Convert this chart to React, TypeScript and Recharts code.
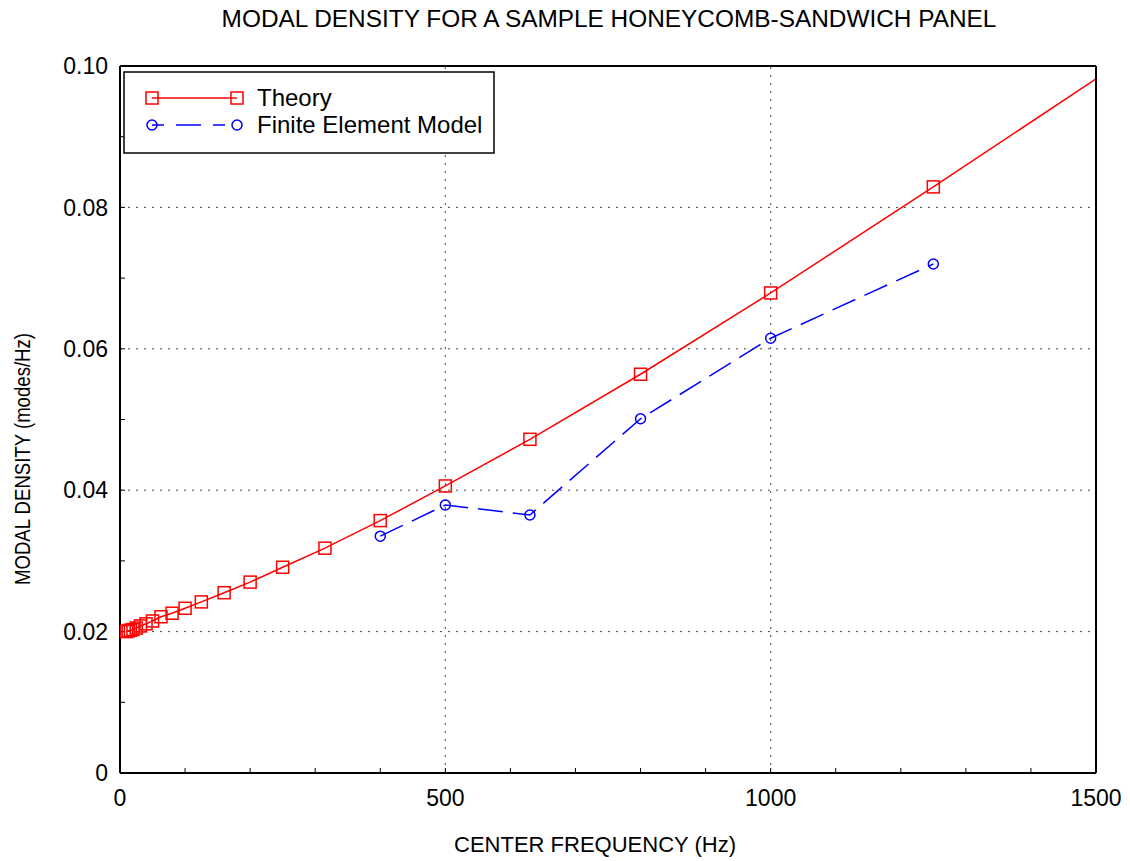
import React from 'react';
import { LineChart, Line, XAxis, YAxis, ReferenceLine } from 'recharts';

// theory curve, 1/3-octave centre frequencies (last point runs off the right edge)
const THEORY_FREQ = [10, 12.5, 16, 20, 25, 31.5, 40, 50, 63, 80, 100, 125, 160, 200, 250, 315, 400, 500, 630, 800, 1000, 1250, 1600];
const THEORY_DENSITY = [0.02, 0.0201, 0.0202, 0.0203, 0.0205, 0.0208, 0.0211, 0.0215, 0.0221, 0.0226, 0.0233, 0.0242, 0.0255, 0.027, 0.0291, 0.0318, 0.0357, 0.0406, 0.0472, 0.0564, 0.0679, 0.0829, 0.1043];

const FEM_FREQ = [400, 500, 630, 800, 1000, 1250];
const FEM_DENSITY = [0.0335, 0.0379, 0.0365, 0.0501, 0.0615, 0.072];

const X_TICKS = [0, 100, 200, 300, 400, 500, 600, 700, 800, 900, 1000, 1100, 1200, 1300, 1400, 1500];
const X_LABELS = [0, 500, 1000, 1500];
const Y_TICKS = [0, 0.01, 0.02, 0.03, 0.04, 0.05, 0.06, 0.07, 0.08, 0.09, 0.1];
const Y_LABELS = [0, 0.02, 0.04, 0.06, 0.08, 0.1];
const X_GRID = [500, 1000];
const Y_GRID = [0.02, 0.04, 0.06, 0.08];

const theoryData = THEORY_FREQ.map((x, i) => ({ x, y: THEORY_DENSITY[i] }));
const femData = FEM_FREQ.map((x, i) => ({ x, y: FEM_DENSITY[i] }));

const RED = '#ff0000';
const BLUE = '#0000ff';
const FONT = '"Liberation Sans", Arial, Helvetica, sans-serif';
const FEM_DASH = '25 10';

const fmtX = (v: number) => (X_LABELS.includes(v) ? String(v) : '');
const fmtY = (v: number) => {
  const hit = Y_LABELS.find((l) => Math.abs(l - v) < 1e-9);
  if (hit === undefined) return '';
  return hit === 0 ? '0' : hit.toFixed(2);
};

const SquareDot = (props: any) => {
  const { cx, cy, index } = props;
  if (cx == null || cy == null) return <g key={`sq-${index}`} />;
  return (
    <rect key={`sq-${index}`} x={cx - 6} y={cy - 6} width={12} height={12} fill="none" stroke={RED} strokeWidth={1.5} />
  );
};

const CircleDot = (props: any) => {
  const { cx, cy, index } = props;
  if (cx == null || cy == null) return <g key={`ci-${index}`} />;
  return <circle key={`ci-${index}`} cx={cx} cy={cy} r={5} fill="none" stroke={BLUE} strokeWidth={1.5} />;
};

const tickStyle = { fill: '#000', fontSize: 23, fontFamily: FONT };
const axisLine = { stroke: '#000', strokeWidth: 2 };
const tickLine = { stroke: '#000', strokeWidth: 1 };

export default function App() {
  return (
    <div style={{ position: 'absolute', left: 0, top: 0, width: 1130, height: 861, background: '#fff' }}>
      <LineChart width={1130} height={861} margin={{ top: 65, right: 33, bottom: 87, left: 119 }}>
        <XAxis
          xAxisId="bottom"
          dataKey="x"
          type="number"
          domain={[0, 1500]}
          allowDataOverflow
          ticks={X_TICKS}
          tickFormatter={fmtX}
          interval={0}
          height={1}
          tickSize={-5}
          tickMargin={22}
          tick={tickStyle}
          axisLine={axisLine}
          tickLine={tickLine}
        />
        <XAxis
          xAxisId="top"
          orientation="top"
          type="number"
          domain={[0, 1500]}
          allowDataOverflow
          ticks={X_TICKS}
          interval={0}
          height={1}
          tickSize={-5}
          tick={false}
          axisLine={axisLine}
          tickLine={tickLine}
        />
        <YAxis
          yAxisId="left"
          type="number"
          domain={[0, 0.1]}
          allowDataOverflow
          ticks={Y_TICKS}
          tickFormatter={fmtY}
          interval={0}
          width={1}
          tickSize={-5}
          tickMargin={17}
          tick={tickStyle}
          axisLine={axisLine}
          tickLine={tickLine}
        />
        <YAxis
          yAxisId="right"
          orientation="right"
          type="number"
          domain={[0, 0.1]}
          allowDataOverflow
          ticks={Y_TICKS}
          interval={0}
          width={1}
          tickSize={-5}
          tick={false}
          axisLine={axisLine}
          tickLine={tickLine}
        />

        {X_GRID.map((v) => (
          <ReferenceLine key={`gx-${v}`} xAxisId="bottom" yAxisId="left" x={v} stroke="#444" strokeDasharray="2 6" />
        ))}
        {Y_GRID.map((v) => (
          <ReferenceLine key={`gy-${v}`} xAxisId="bottom" yAxisId="left" y={v} stroke="#444" strokeDasharray="2 6" />
        ))}

        <Line
          xAxisId="bottom"
          yAxisId="left"
          data={theoryData}
          dataKey="y"
          type="linear"
          stroke={RED}
          strokeWidth={1.5}
          dot={SquareDot}
          activeDot={false}
          isAnimationActive={false}
        />
        <Line
          xAxisId="bottom"
          yAxisId="left"
          data={femData}
          dataKey="y"
          type="linear"
          stroke={BLUE}
          strokeWidth={1.5}
          strokeDasharray={FEM_DASH}
          dot={CircleDot}
          activeDot={false}
          isAnimationActive={false}
        />
      </LineChart>

      {/* title, axis titles and legend */}
      <svg
        width={1130}
        height={861}
        style={{ position: 'absolute', left: 0, top: 0, pointerEvents: 'none' }}
        fontFamily={FONT}
      >
        <text x={609} y={27} fontSize={24.4} textAnchor="middle" fill="#000">
          MODAL DENSITY FOR A SAMPLE HONEYCOMB-SANDWICH PANEL
        </text>
        <text x={595} y={852} fontSize={22} textAnchor="middle" fill="#000">
          CENTER FREQUENCY (Hz)
        </text>
        <text
          x={30}
          y={459}
          fontSize={22}
          textAnchor="middle"
          fill="#000"
          textLength={252}
          lengthAdjust="spacingAndGlyphs"
          transform="rotate(-90 30 459)"
        >
          MODAL DENSITY (modes/Hz)
        </text>

        <rect x={124} y={72} width={370} height={81} fill="#fff" stroke="#000" strokeWidth={1.5} />
        <line x1={152} y1={98} x2={237} y2={98} stroke={RED} strokeWidth={1.5} />
        <rect x={146} y={92} width={12} height={12} fill="none" stroke={RED} strokeWidth={1.5} />
        <rect x={231} y={92} width={12} height={12} fill="none" stroke={RED} strokeWidth={1.5} />
        <text x={257} y={106} fontSize={24} fill="#000">Theory</text>

        <line x1={152} y1={125} x2={237} y2={125} stroke={BLUE} strokeWidth={1.5} strokeDasharray="12 12 25 12" />
        <circle cx={152} cy={125} r={5} fill="none" stroke={BLUE} strokeWidth={1.5} />
        <circle cx={237} cy={125} r={5} fill="none" stroke={BLUE} strokeWidth={1.5} />
        <text x={257} y={133} fontSize={24} fill="#000">Finite Element Model</text>
      </svg>
    </div>
  );
}
